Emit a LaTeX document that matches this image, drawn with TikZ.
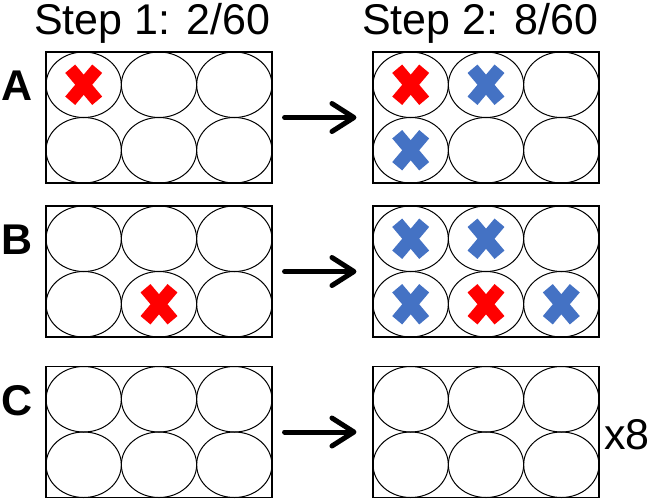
\documentclass[tikz,border=0pt]{standalone}
\usepackage{fontspec}
\setmainfont{Liberation Sans}
\definecolor{hitred}{RGB}{255,0,0}
\definecolor{hitblue}{RGB}{68,114,196}
\usetikzlibrary{arrows.meta,positioning,shapes.geometric}

\begin{document}
\begin{tikzpicture}[
    x=1pt, y=-1pt,
    plate/.style={rectangle, draw, line width=1.1pt, minimum width=226pt,
                  minimum height=131pt, inner sep=0pt},
    well/.style={ellipse, draw, line width=1pt, minimum width=75.3pt,
                 minimum height=65.5pt, inner sep=0pt},
    hitbar/.style={line width=13pt, line cap=butt},
    steptitle/.style={font=\fontsize{43}{43}\selectfont, anchor=base, inner sep=0pt},
    rowlabel/.style={font=\fontsize{43}{43}\selectfont\bfseries,
                     anchor=base, inner sep=0pt},
    arrowline/.style={-{Straight Barb[length=22pt,width=28pt,round]},
                      line width=5pt, line cap=round,
                      shorten <=12pt, shorten >=16pt}
  ]
    \useasboundingbox (0,0) rectangle (650,499);

    % Titles
    \node[steptitle] (t1) at (152,34) {Step 1: 2/60};
    \node[steptitle] (t2) at (480,34) {Step 2: 8/60};

    % Plates
    \foreach \p/\cx/\cy in {a1/159/117.5, a2/486/117.5,
                            b1/159/271.5, b2/486/271.5,
                            c1/159/432,   c2/486/432}{
      \node[plate] (\p) at (\cx,\cy) {};
      \foreach \j in {1,2}{
        \foreach \i in {1,2,3}{
          \node[well] (\p-\j\i) at ({\cx+(\i-2)*75.3},{\cy+(\j-1.5)*65.5}) {};
        }
      }
    }

    % Row labels
    \node[rowlabel] (la) at (17,100) {A};
    \node[rowlabel] (lb) at (17,254) {B};
    \node[rowlabel] (lc) at (17,415) {C};

    \draw[arrowline] (a1) -- (a2);
    \draw[arrowline] (b1) -- (b2);
    \draw[arrowline] (c1) -- (c2);

    \node[steptitle] (times) at (627,449) {x8};

    % Crosses
    \foreach \w/\col in {a1-11/hitred, a2-11/hitred, a2-12/hitblue, a2-21/hitblue,
                         b1-22/hitred, b2-11/hitblue, b2-12/hitblue,
                         b2-21/hitblue, b2-22/hitred, b2-23/hitblue}{
      \draw[hitbar, \col] (\w.center) ++(-13.5,-16) -- ++(27,32);
      \draw[hitbar, \col] (\w.center) ++(-13.5,16) -- ++(27,-32);
    }
  \end{tikzpicture}
\end{document}
